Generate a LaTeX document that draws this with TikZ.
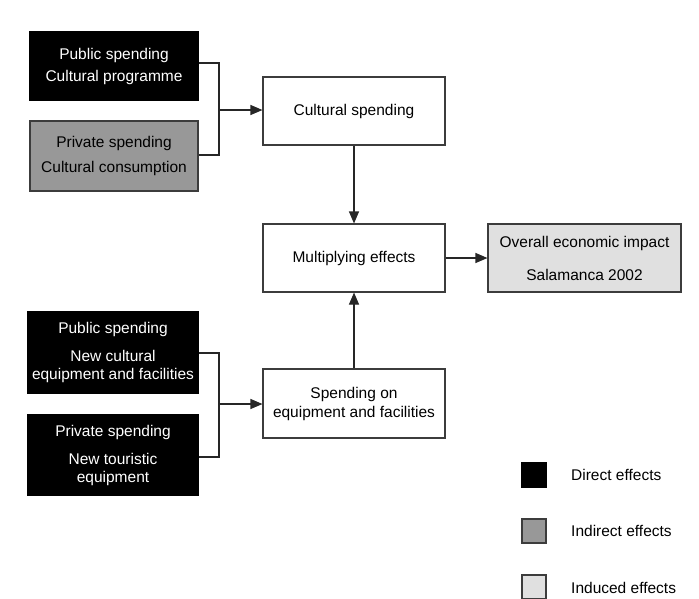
\documentclass[tikz,border=0pt]{standalone}
\usepackage{fontspec}
\setmainfont{Liberation Sans}
\usetikzlibrary{arrows.meta}
\definecolor{midgray}{RGB}{152,152,152}
\definecolor{lightgray2}{RGB}{224,224,224}
\definecolor{edgegray}{RGB}{60,60,60}
\begin{document}
\begin{tikzpicture}[x=1pt,y=-1pt,
  every node/.style={font=\fontsize{15.5}{18}\selectfont},
  box/.style={draw=edgegray,line width=1.1pt,inner sep=0pt,align=center},
  blackbox/.style={box,fill=black,text=white,draw=black},
  graybox/.style={box,fill=midgray,text=black},
  whitebox/.style={box,fill=white,text=black},
  inducedbox/.style={box,fill=lightgray2,text=black},
  conn/.style={draw=black!85,line width=1.1pt},
  arr/.style={conn,-{Triangle[length=12pt,width=10pt]}},
  legtext/.style={anchor=west,inner sep=0pt}]
\useasboundingbox (0,0) rectangle (699,598);

% top left inputs
\node[blackbox,minimum width=168pt,minimum height=68pt] (pub1) at (114,66)
  {Public spending\\[4pt]Cultural programme};
\node[graybox,minimum width=168pt,minimum height=70pt] (priv1) at (114,156)
  {Private spending\\[7pt]Cultural consumption};

% central column
\node[whitebox,minimum width=182pt,minimum height=68pt] (cult) at (354,111)
  {Cultural spending};
\node[whitebox,minimum width=182pt,minimum height=68pt] (mult) at (354,258)
  {Multiplying effects};
\node[inducedbox,minimum width=193pt,minimum height=68pt] (overall) at (584.5,258)
  {Overall economic impact\\[15pt]Salamanca 2002};
\node[whitebox,minimum width=182pt,minimum height=69pt] (equip) at (354,403.5)
  {Spending on\\[1pt]equipment and facilities};

% bottom left inputs
\node[blackbox,minimum width=170pt,minimum height=81pt] (pub2) at (113,352.5)
  {Public spending\\[10pt]New cultural\\equipment and facilities};
\node[blackbox,minimum width=170pt,minimum height=80pt] (priv2) at (113,455)
  {Private spending\\[10pt]New touristic\\equipment};

% connectors top
\coordinate (j1) at (219,110);
\draw[conn] (pub1.east |- 0,63) -| (j1);
\draw[conn] (priv1.east |- 0,155) -| (j1);
\draw[arr] (j1) -- (cult.west |- j1);
\draw[arr] (cult.south) -- (mult.north);
\draw[arr] (mult.east) -- (overall.west);

% connectors bottom
\coordinate (j2) at (219,404);
\draw[conn] (pub2.east |- 0,353) -| (j2);
\draw[conn] (priv2.east |- 0,457) -| (j2);
\draw[arr] (j2) -- (equip.west |- j2);
\draw[arr] (equip.north) -- (mult.south);

% legend
\node[box,fill=black,draw=black,minimum size=24pt] (lg1) at (534,475) {};
\node[graybox,minimum size=24pt] (lg2) at (534,531) {};
\node[inducedbox,minimum size=24pt] (lg3) at (534,587) {};
\node[legtext] (lt1) at (571,475) {Direct effects};
\node[legtext] (lt2) at (571,531) {Indirect effects};
\node[legtext] (lt3) at (571,588) {Induced effects};
\end{tikzpicture}
\end{document}
